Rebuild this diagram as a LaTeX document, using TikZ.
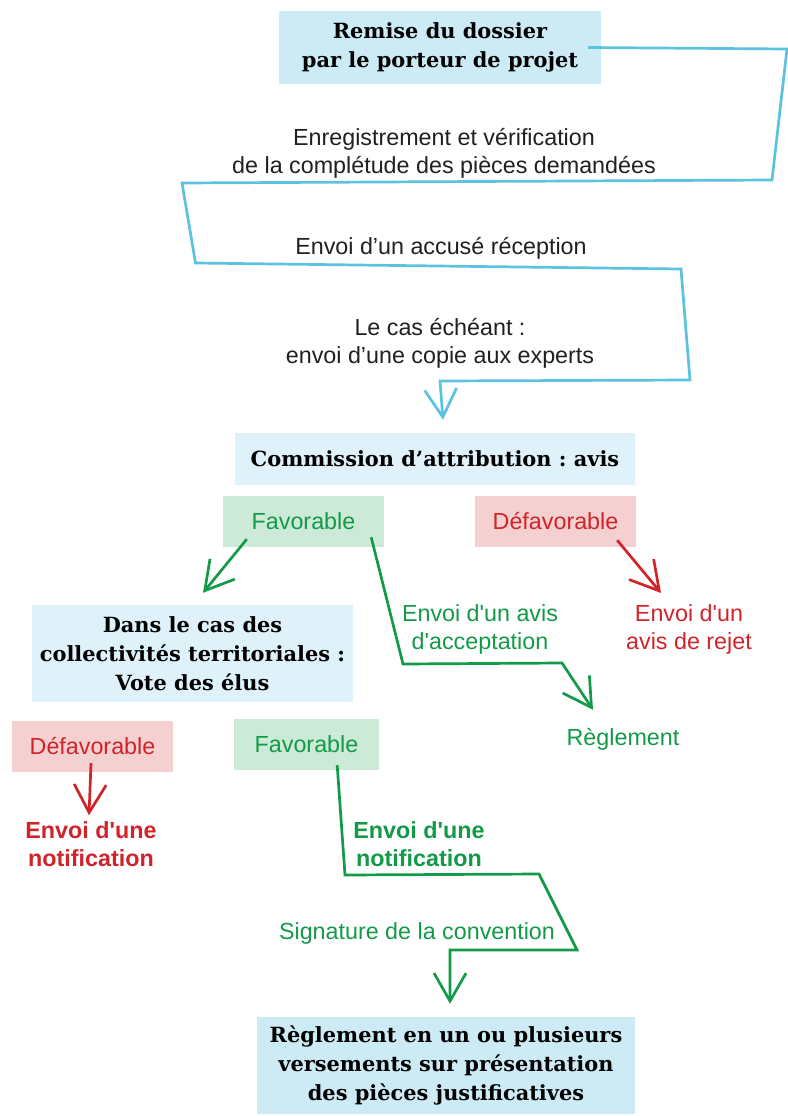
\documentclass[tikz,border=0pt]{standalone}
\usepackage{fontspec}
\setmainfont{Liberation Sans}
\newfontfamily\slabfont{DejaVu Serif}
\usetikzlibrary{arrows.meta}
\definecolor{bleutrait}{HTML}{5BC2E0}
\definecolor{bleufond}{HTML}{CDEBF5}
\definecolor{bleuclair}{HTML}{DFF2F9}
\definecolor{vert}{HTML}{129A48}
\definecolor{vertfond}{HTML}{CDE9D8}
\definecolor{rouge}{HTML}{D2232A}
\definecolor{rougefond}{HTML}{F4D0D0}
\definecolor{encre}{HTML}{231F20}
\newcommand\aposdroit{\textquotesingle}
\frenchspacing

\begin{document}
\begin{tikzpicture}[x=1pt, y=-1pt,
    etape/.style={fill=bleufond, inner sep=0pt, align=center, text=black, font=\slabfont\bfseries\fontsize{20.9}{29}\selectfont},
    legende/.style={inner sep=0pt, align=center, text=encre, font=\fontsize{23.3}{28}\selectfont},
    avisbox/.style={inner sep=0pt, minimum height=51pt, font=\fontsize{23.3}{28}\selectfont},
    fleche/.style={line width=2.7pt, line join=miter, -{Straight Barb[length=28pt,width=32pt]}}]
        \useasboundingbox (0,0) rectangle (787,1116);
        % boites et textes
        \node[etape, minimum width=322pt, minimum height=73pt] (remise) at (440,47.5) {Remise du dossier\\par le porteur de projet};
        \node[legende] (enreg) at (444,153) {Enregistrement et vérification\\de la complétude des pièces demandées};
        \node[legende] (accuse) at (441,248) {Envoi d’un accusé réception};
        \node[legende] (echeant) at (440,343) {Le cas échéant :\\envoi d’une copie aux experts};
        \node[etape, fill=bleuclair, minimum width=400pt, minimum height=52pt] (commission) at (435,459) {Commission d’attribution : avis};
        \node[avisbox, fill=vertfond, text=vert, minimum width=161pt] (fav) at (303.5,521.5) {Favorable};
        \node[avisbox, fill=rougefond, text=rouge, minimum width=161pt] (defav) at (555.5,521.5) {Défavorable};
        \node[etape, fill=bleuclair, minimum width=321pt, minimum height=97pt] (elus) at (192.5,653.5) {Dans le cas des\\collectivités territoriales :\\Vote des élus};
        \node[legende, text=vert] (acceptation) at (480,629) {Envoi d\aposdroit un avis\\d\aposdroit acceptation};
        \node[legende, text=rouge] (rejet) at (689,629) {Envoi d\aposdroit un\\avis de rejet};
        \node[legende, text=vert] (reglement) at (623,739) {Règlement};
        \node[avisbox, fill=rougefond, text=rouge, minimum width=161pt] (defavelus) at (92.5,746.5) {Défavorable};
        \node[avisbox, fill=vertfond, text=vert, minimum width=145pt] (favelus) at (306.5,744.5) {Favorable};
        \node[legende, text=rouge, font=\bfseries\fontsize{23.3}{28}\selectfont] (notifrejet) at (91,844) {Envoi d\aposdroit une\\notification};
        \node[legende, text=vert, font=\bfseries\fontsize{23.3}{28}\selectfont] (notifvote) at (419,844) {Envoi d\aposdroit une\\notification};
        \node[legende, text=vert] (signature) at (417,933) {Signature de la convention};
        \node[etape, minimum width=378pt, minimum height=97pt] (versements) at (446,1065.5) {Règlement en un ou plusieurs\\versements sur présentation\\des pièces justificatives};
        % coudes
        \coordinate (b1) at (787,49);
        \coordinate (b2) at (772,180);
        \coordinate (b3) at (182,183);
        \coordinate (b4) at (195.5,263);
        \coordinate (b5) at (681,269);
        \coordinate (b6) at (690,380);
        \coordinate (b7) at (440,381);
        \coordinate (v1) at (403,664);
        \coordinate (v2) at (562,663);
        \coordinate (w1) at (345,875);
        \coordinate (w2) at (539,874);
        \coordinate (w3) at (577,950);
        \coordinate (w4) at (450,950);
        % fleches
        \draw[fleche, bleutrait] ([xshift=-13pt]remise.east) -- (b1) -- (b2) -- (b3) -- (b4) -- (b5) -- (b6) -- (b7) -- ([xshift=8pt,yshift=13pt]commission.north);
        \draw[fleche, vert] ([xshift=24pt,yshift=8pt]fav.south west) -- ([xshift=10.5pt,yshift=12pt]elus.north);
        \draw[fleche, vert] ([xshift=-13pt,yshift=10pt]fav.south east) -- (v1) -- (v2) -- ([xshift=-30pt,yshift=18pt]reglement.north);
        \draw[fleche, rouge] ([xshift=-19pt,yshift=7pt]defav.south east) -- ([xshift=-28pt,yshift=11pt]rejet.north);
        \draw[fleche, rouge] ([xshift=-1.5pt,yshift=9pt]defavelus.south) -- ([xshift=-2pt,yshift=6pt]notifrejet.north);
        \draw[fleche, vert] ([xshift=-42pt,yshift=5pt]favelus.south east) -- (w1) -- (w2) -- (w3) -- (w4) -- ([xshift=4pt,yshift=13pt]versements.north);
\end{tikzpicture}
\end{document}
